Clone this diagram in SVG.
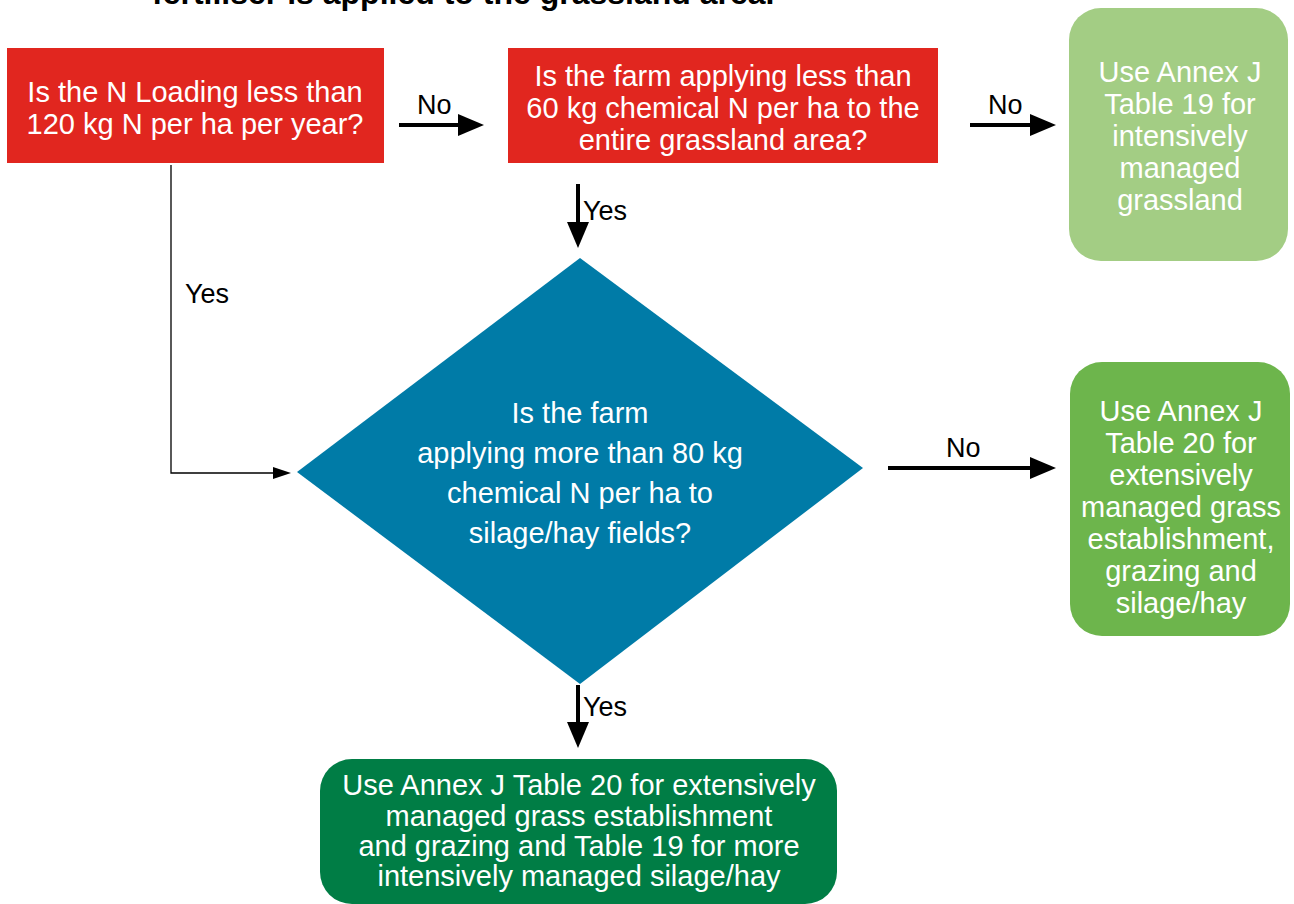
<svg xmlns="http://www.w3.org/2000/svg" width="1294" height="904" viewBox="0 0 1294 904">
<defs>
<marker id="ah" viewBox="0 0 10 10" refX="10" refY="5" markerWidth="6" markerHeight="6" markerUnits="userSpaceOnUse" orient="auto">
<path d="M0,0 L10,5 L0,10 z" fill="#000"/>
</marker>
<style>
text{font-family:"Liberation Sans",Arial,Helvetica,sans-serif;}
.nt{fill:#fff;font-size:29px;text-anchor:middle;}
.lb{fill:#000;font-size:27px;}
.thick{stroke:#000;stroke-width:4;fill:none;}
.thin{stroke:#000;stroke-width:1.3;fill:none;}
</style>
</defs>
<rect width="1294" height="904" fill="#fff"/>
<text x="152" y="4" style="font-size:32px;font-weight:bold;fill:#000">fertiliser is applied to the grassland area.</text>

<g id="connectors">
<line class="thick" x1="399" y1="125" x2="462" y2="125"/>
<path d="M458,114 L484,125 L458,136 z"/>
<line class="thick" x1="970" y1="125" x2="1034" y2="125"/>
<path d="M1030,114 L1056,125 L1030,136 z"/>
<line class="thick" x1="578" y1="184" x2="578" y2="226"/>
<path d="M567,222 L578,248 L589,222 z"/>
<polyline class="thin" points="171,165 171,473 278,473"/>
<path d="M273,467 L291,473 L273,479 z"/>
<line class="thick" x1="888" y1="468" x2="1034" y2="468"/>
<path d="M1030,457 L1056,468 L1030,479 z"/>
<line class="thick" x1="578" y1="685" x2="578" y2="726"/>
<path d="M567,722 L578,748 L589,722 z"/>
<text class="lb" x="417" y="114">No</text>
<text class="lb" x="988" y="114">No</text>
<text class="lb" x="583" y="220">Yes</text>
<text class="lb" x="185" y="303">Yes</text>
<text class="lb" x="946" y="457">No</text>
<text class="lb" x="583" y="716">Yes</text>
</g>

<g id="q1">
<rect x="7" y="48" width="377" height="115" fill="#e1261f"/>
<text class="nt"><tspan x="195" y="102">Is the N Loading less than</tspan><tspan x="195" y="134">120 kg N per ha per year?</tspan></text>
</g>

<g id="q2">
<rect x="508" y="48" width="430" height="115" fill="#e1261f"/>
<text class="nt"><tspan x="723" y="86">Is the farm applying less than</tspan><tspan x="723" y="118">60 kg chemical N per ha to the</tspan><tspan x="723" y="150">entire grassland area?</tspan></text>
</g>

<g id="r1">
<rect x="1069" y="8" width="219" height="253" rx="32" fill="#a3cd84"/>
<text class="nt"><tspan x="1180" y="82">Use Annex J</tspan><tspan x="1180" y="114">Table 19 for</tspan><tspan x="1180" y="146">intensively</tspan><tspan x="1180" y="178">managed</tspan><tspan x="1180" y="210">grassland</tspan></text>
</g>

<g id="q3">
<polygon points="580,258 863,468 580,684 297,472" fill="#007ba7"/>
<text class="nt"><tspan x="580" y="423">Is the farm</tspan><tspan x="580" y="463">applying more than 80 kg</tspan><tspan x="580" y="503">chemical N per ha to</tspan><tspan x="580" y="543">silage/hay fields?</tspan></text>
</g>

<g id="r2">
<rect x="1070" y="362" width="220" height="274" rx="32" fill="#6db54c"/>
<text class="nt"><tspan x="1181" y="421">Use Annex J</tspan><tspan x="1181" y="453">Table 20 for</tspan><tspan x="1181" y="485">extensively</tspan><tspan x="1181" y="517">managed grass</tspan><tspan x="1181" y="549">establishment,</tspan><tspan x="1181" y="581">grazing and</tspan><tspan x="1181" y="613">silage/hay</tspan></text>
</g>

<g id="r3">
<rect x="320" y="759" width="517" height="145" rx="32" fill="#007d45"/>
<text class="nt"><tspan x="579" y="795">Use Annex J Table 20 for extensively</tspan><tspan x="579" y="826">managed grass establishment</tspan><tspan x="579" y="856">and grazing and Table 19 for more</tspan><tspan x="579" y="886">intensively managed silage/hay</tspan></text>
</g>
</svg>
